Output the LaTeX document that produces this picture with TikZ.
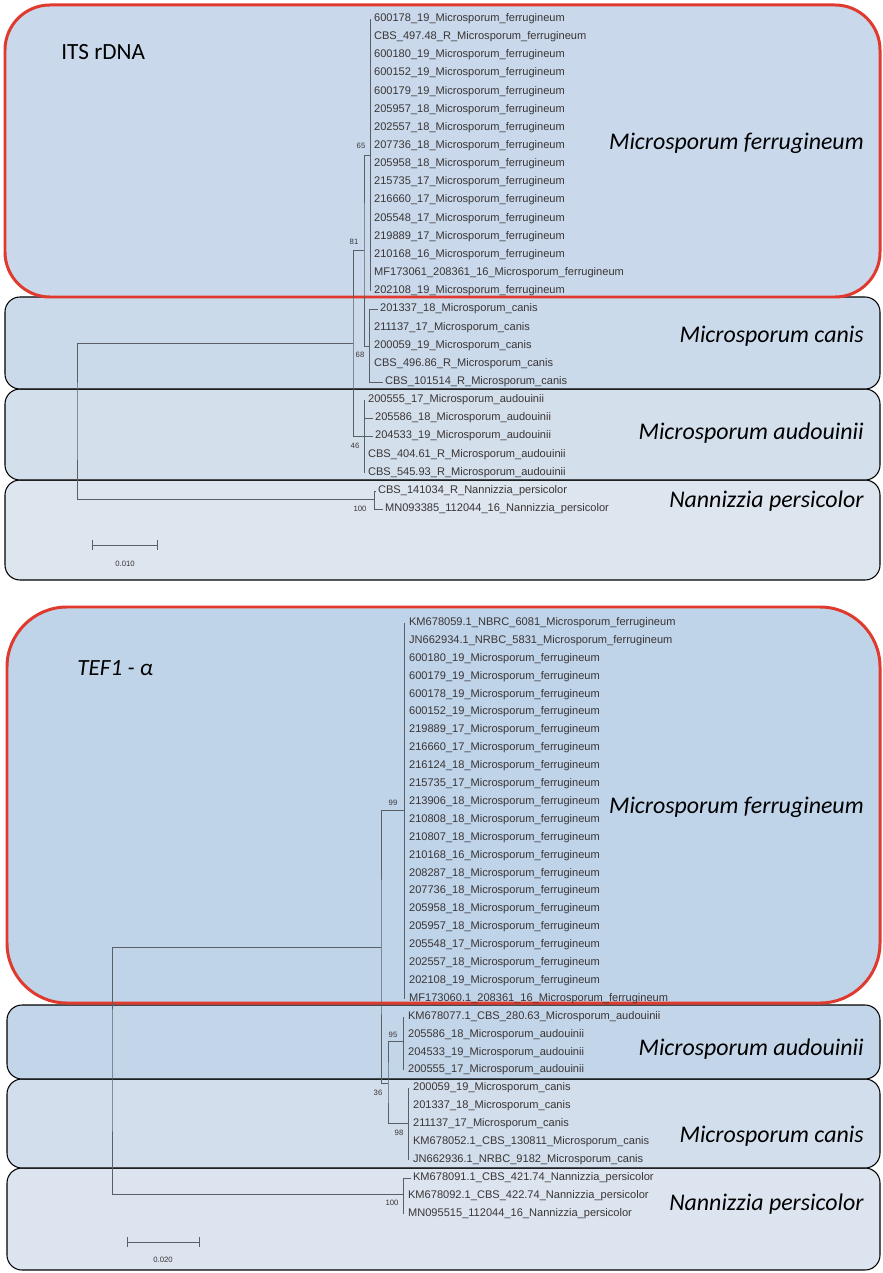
\documentclass[tikz,border=0pt]{standalone}
\usepackage{fontspec}
\setmainfont{Liberation Sans}
\newfontfamily\cladeFont{Carlito}
\usepackage{xcolor}
\usepackage{tikz}
\definecolor{focusRed}{HTML}{E03A2F}
\definecolor{treeLine}{HTML}{5A5F66}
\definecolor{tipText}{HTML}{3A3535}
\definecolor{itsFerrFill}{HTML}{C9D9EB}
\definecolor{itsCanisFill}{HTML}{CBDAEB}
\definecolor{itsAudFill}{HTML}{D4DFEC}
\definecolor{itsNanFill}{HTML}{DDE5EF}
\definecolor{tefFerrFill}{HTML}{BFD3E9}
\definecolor{tefAudFill}{HTML}{C3D5E9}
\definecolor{tefCanisFill}{HTML}{D2DEEC}
\definecolor{tefNanFill}{HTML}{DCE4EF}

\begin{document}
\begin{tikzpicture}[
        x=0.02cm, y=-0.02cm,
        cladeBox/.style={draw=black, line width=0.6pt, rounded corners=0.3cm},
        focusBox/.style={draw=focusRed, line width=1.7pt, rounded corners=0.9cm},
        branch/.style={draw=treeLine, line width=0.55pt},
        tipLabel/.style={anchor=west, inner sep=1pt, text=tipText, font=\fontsize{6.3}{7}\selectfont},
        bootLabel/.style={inner sep=0pt, text=tipText, font=\fontsize{4.4}{5}\selectfont},
        cladeName/.style={anchor=base east, inner sep=0pt, font=\fontsize{13.6}{15}\selectfont\cladeFont\itshape},
        geneLabel/.style={anchor=base west, inner sep=0pt, font=\fontsize{13.2}{15}\selectfont\cladeFont}
    ]
        \useasboundingbox (0,0) rectangle (882,1273);

        % ITS clade boxes
        \path[cladeBox, fill=itsNanFill] (5,480) rectangle (880,580);
        \path[cladeBox, fill=itsAudFill] (5,389) rectangle (880,480);
        \path[cladeBox, fill=itsCanisFill] (5,297) rectangle (880,389);
        \path[focusBox, fill=itsFerrFill] (5,5) rectangle (880,297);

        % TEF1 clade boxes
        \path[cladeBox, fill=tefNanFill] (7,1168) rectangle (880,1270);
        \path[cladeBox, fill=tefCanisFill] (7,1079) rectangle (880,1168);
        \path[cladeBox, fill=tefAudFill] (7,1005) rectangle (880,1079);
        \path[focusBox, fill=tefFerrFill, rounded corners=1.2cm] (7,607) rectangle (880,1003);

        % Gene labels
        \node[geneLabel, at={(61,60)}] (itsGene) {ITS rDNA};
        \node[geneLabel, font=\fontsize{13.2}{15}\selectfont\cladeFont\itshape, at={(77,675)}] (tefGene) {TEF1 - α};

        % ITS tips
        \node[tipLabel, at={(372,19)}] (its1) {600178\_19\_Microsporum\_ferrugineum};
        \node[tipLabel, at={(372,37)}] (its2) {CBS\_497.48\_R\_Microsporum\_ferrugineum};
        \node[tipLabel, at={(372,55)}] (its3) {600180\_19\_Microsporum\_ferrugineum};
        \node[tipLabel, at={(372,73)}] (its4) {600152\_19\_Microsporum\_ferrugineum};
        \node[tipLabel, at={(372,92)}] (its5) {600179\_19\_Microsporum\_ferrugineum};
        \node[tipLabel, at={(372,110)}] (its6) {205957\_18\_Microsporum\_ferrugineum};
        \node[tipLabel, at={(372,128)}] (its7) {202557\_18\_Microsporum\_ferrugineum};
        \node[tipLabel, at={(372,146)}] (its8) {207736\_18\_Microsporum\_ferrugineum};
        \node[tipLabel, at={(372,164)}] (its9) {205958\_18\_Microsporum\_ferrugineum};
        \node[tipLabel, at={(372,182)}] (its10) {215735\_17\_Microsporum\_ferrugineum};
        \node[tipLabel, at={(372,200)}] (its11) {216660\_17\_Microsporum\_ferrugineum};
        \node[tipLabel, at={(372,219)}] (its12) {205548\_17\_Microsporum\_ferrugineum};
        \node[tipLabel, at={(372,237)}] (its13) {219889\_17\_Microsporum\_ferrugineum};
        \node[tipLabel, at={(372,255)}] (its14) {210168\_16\_Microsporum\_ferrugineum};
        \node[tipLabel, at={(372,273)}] (its15) {MF173061\_208361\_16\_Microsporum\_ferrugineum};
        \node[tipLabel, at={(372,291)}] (its16) {202108\_19\_Microsporum\_ferrugineum};
        \node[tipLabel, at={(378,309)}] (its17) {201337\_18\_Microsporum\_canis};
        \node[tipLabel, at={(372,328)}] (its18) {211137\_17\_Microsporum\_canis};
        \node[tipLabel, at={(372,346)}] (its19) {200059\_19\_Microsporum\_canis};
        \node[tipLabel, at={(372,364)}] (its20) {CBS\_496.86\_R\_Microsporum\_canis};
        \node[tipLabel, at={(383,382)}] (its21) {CBS\_101514\_R\_Microsporum\_canis};
        \node[tipLabel, at={(366,400)}] (its22) {200555\_17\_Microsporum\_audouinii};
        \node[tipLabel, at={(373,418)}] (its23) {205586\_18\_Microsporum\_audouinii};
        \node[tipLabel, at={(373,436)}] (its24) {204533\_19\_Microsporum\_audouinii};
        \node[tipLabel, at={(366,455)}] (its25) {CBS\_404.61\_R\_Microsporum\_audouinii};
        \node[tipLabel, at={(366,473)}] (its26) {CBS\_545.93\_R\_Microsporum\_audouinii};
        \node[tipLabel, at={(376,491)}] (its27) {CBS\_141034\_R\_Nannizzia\_persicolor};
        \node[tipLabel, at={(383,509)}] (its28) {MN093385\_112044\_16\_Nannizzia\_persicolor};

        % ITS inner nodes
        \coordinate (itsF) at (370,155);
        \coordinate (itsC) at (369,346);
        \coordinate (itsFC) at (364,250);
        \coordinate (itsA) at (364,436);
        \coordinate (itsIn) at (353,343);
        \coordinate (itsN) at (374,499);
        \coordinate (itsRoot) at (77,421);

        % ITS branches
        \draw[branch] (itsF |- its1.west) -- (itsF |- its16.west);
        \draw[branch] (itsC |- its17.west) -- (itsC |- its21.west);
        \draw[branch] (itsC |- its17.west) -- (its17.west);
        \draw[branch] (itsC |- its21.west) -- (its21.west);
        \draw[branch] (itsA |- its22.west) -- (itsA |- its26.west);
        \draw[branch] (itsA |- its23.west) -- (its23.west);
        \draw[branch] (itsA |- its24.west) -- (its24.west);
        \draw[branch] (itsN |- its27.west) -- (itsN |- its28.west);
        \draw[branch] (itsN |- its27.west) -- (its27.west);
        \draw[branch] (itsN |- its28.west) -- (its28.west);
        \draw[branch] (itsF) -| (itsFC) |- (itsC);
        \draw[branch] (itsFC) -| (itsIn) |- (itsA);
        \draw[branch] (itsIn) -| (itsRoot) |- (itsN);

        % ITS support values
        \node[bootLabel, at={(361,146)}] (itsB65) {65};
        \node[bootLabel, at={(354,242)}] (itsB81) {81};
        \node[bootLabel, at={(360,355)}] (itsB68) {68};
        \node[bootLabel, at={(355,446)}] (itsB46) {46};
        \node[bootLabel, at={(360,509)}] (itsB100) {100};

        % ITS scale
        \coordinate (itsBarL) at (92,545);
        \coordinate (itsBarR) at (158,545);
        \draw[branch, |-|] (itsBarL) -- (itsBarR);
        \node[bootLabel, at={(125,564)}] (itsScale) {0.010};

        % ITS clade names
        \node[cladeName, at={(864,150)}] (itsFName) {Microsporum ferrugineum};
        \node[cladeName, at={(864,343)}] (itsCName) {Microsporum canis};
        \node[cladeName, at={(864,439)}] (itsAName) {Microsporum audouinii};
        \node[cladeName, at={(864,507)}] (itsNName) {Nannizzia persicolor};

        % TEF1 tips
        \node[tipLabel, at={(407,623)}] (tef1) {KM678059.1\_NBRC\_6081\_Microsporum\_ferrugineum};
        \node[tipLabel, at={(407,641)}] (tef2) {JN662934.1\_NRBC\_5831\_Microsporum\_ferrugineum};
        \node[tipLabel, at={(407,659)}] (tef3) {600180\_19\_Microsporum\_ferrugineum};
        \node[tipLabel, at={(407,677)}] (tef4) {600179\_19\_Microsporum\_ferrugineum};
        \node[tipLabel, at={(407,695)}] (tef5) {600178\_19\_Microsporum\_ferrugineum};
        \node[tipLabel, at={(407,712)}] (tef6) {600152\_19\_Microsporum\_ferrugineum};
        \node[tipLabel, at={(407,730)}] (tef7) {219889\_17\_Microsporum\_ferrugineum};
        \node[tipLabel, at={(407,748)}] (tef8) {216660\_17\_Microsporum\_ferrugineum};
        \node[tipLabel, at={(407,766)}] (tef9) {216124\_18\_Microsporum\_ferrugineum};
        \node[tipLabel, at={(407,784)}] (tef10) {215735\_17\_Microsporum\_ferrugineum};
        \node[tipLabel, at={(407,802)}] (tef11) {213906\_18\_Microsporum\_ferrugineum};
        \node[tipLabel, at={(407,820)}] (tef12) {210808\_18\_Microsporum\_ferrugineum};
        \node[tipLabel, at={(407,838)}] (tef13) {210807\_18\_Microsporum\_ferrugineum};
        \node[tipLabel, at={(407,856)}] (tef14) {210168\_16\_Microsporum\_ferrugineum};
        \node[tipLabel, at={(407,874)}] (tef15) {208287\_18\_Microsporum\_ferrugineum};
        \node[tipLabel, at={(407,891)}] (tef16) {207736\_18\_Microsporum\_ferrugineum};
        \node[tipLabel, at={(407,909)}] (tef17) {205958\_18\_Microsporum\_ferrugineum};
        \node[tipLabel, at={(407,927)}] (tef18) {205957\_18\_Microsporum\_ferrugineum};
        \node[tipLabel, at={(407,945)}] (tef19) {205548\_17\_Microsporum\_ferrugineum};
        \node[tipLabel, at={(407,963)}] (tef20) {202557\_18\_Microsporum\_ferrugineum};
        \node[tipLabel, at={(407,981)}] (tef21) {202108\_19\_Microsporum\_ferrugineum};
        \node[tipLabel, at={(407,999)}] (tef22) {MF173060.1\_208361\_16\_Microsporum\_ferrugineum};
        \node[tipLabel, at={(406,1017)}] (tef23) {KM678077.1\_CBS\_280.63\_Microsporum\_audouinii};
        \node[tipLabel, at={(406,1035)}] (tef24) {205586\_18\_Microsporum\_audouinii};
        \node[tipLabel, at={(406,1053)}] (tef25) {204533\_19\_Microsporum\_audouinii};
        \node[tipLabel, at={(406,1070)}] (tef26) {200555\_17\_Microsporum\_audouinii};
        \node[tipLabel, at={(411,1088)}] (tef27) {200059\_19\_Microsporum\_canis};
        \node[tipLabel, at={(411,1106)}] (tef28) {201337\_18\_Microsporum\_canis};
        \node[tipLabel, at={(411,1124)}] (tef29) {211137\_17\_Microsporum\_canis};
        \node[tipLabel, at={(411,1142)}] (tef30) {KM678052.1\_CBS\_130811\_Microsporum\_canis};
        \node[tipLabel, at={(411,1160)}] (tef31) {JN662936.1\_NRBC\_9182\_Microsporum\_canis};
        \node[tipLabel, at={(411,1178)}] (tef32) {KM678091.1\_CBS\_421.74\_Nannizzia\_persicolor};
        \node[tipLabel, at={(406,1196)}] (tef33) {KM678092.1\_CBS\_422.74\_Nannizzia\_persicolor};
        \node[tipLabel, at={(406,1214)}] (tef34) {MN095515\_112044\_16\_Nannizzia\_persicolor};

        % TEF1 inner nodes
        \coordinate (tefF) at (404,810);
        \coordinate (tefA) at (403,1041);
        \coordinate (tefC) at (408,1123);
        \coordinate (tefAC) at (388,1083);
        \coordinate (tefIn) at (381,947);
        \coordinate (tefN) at (403,1194);
        \coordinate (tefRoot) at (112,1070);

        % TEF1 branches
        \draw[branch] (tefF |- tef1.west) -- (tefF |- tef22.west);
        \draw[branch] (tefA |- tef23.west) -- (tefA |- tef26.west);
        \draw[branch] (tefC |- tef27.west) -- (tefC |- tef31.west);
        \draw[branch] (tefN |- tef32.west) -- (tefN |- tef34.west);
        \draw[branch] (tefN |- tef32.west) -- (tef32.west);
        \draw[branch] (tefF) -| (tefIn) |- (tefAC);
        \draw[branch] (tefA) -| (tefAC) |- (tefC);
        \draw[branch] (tefIn) -| (tefRoot) |- (tefN);

        % TEF1 support values
        \node[bootLabel, at={(393,803)}] (tefB99) {99};
        \node[bootLabel, at={(393,1035)}] (tefB95) {95};
        \node[bootLabel, at={(378,1093)}] (tefB36) {36};
        \node[bootLabel, at={(399,1133)}] (tefB98) {98};
        \node[bootLabel, at={(392,1203)}] (tefB100) {100};

        % TEF1 scale
        \coordinate (tefBarL) at (127,1242);
        \coordinate (tefBarR) at (200,1242);
        \draw[branch, |-|] (tefBarL) -- (tefBarR);
        \node[bootLabel, at={(163,1260)}] (tefScale) {0.020};

        % TEF1 clade names
        \node[cladeName, at={(864,813)}] (tefFName) {Microsporum ferrugineum};
        \node[cladeName, at={(864,1055)}] (tefAName) {Microsporum audouinii};
        \node[cladeName, at={(864,1142)}] (tefCName) {Microsporum canis};
        \node[cladeName, at={(864,1210)}] (tefNName) {Nannizzia persicolor};
    \end{tikzpicture}
\end{document}
